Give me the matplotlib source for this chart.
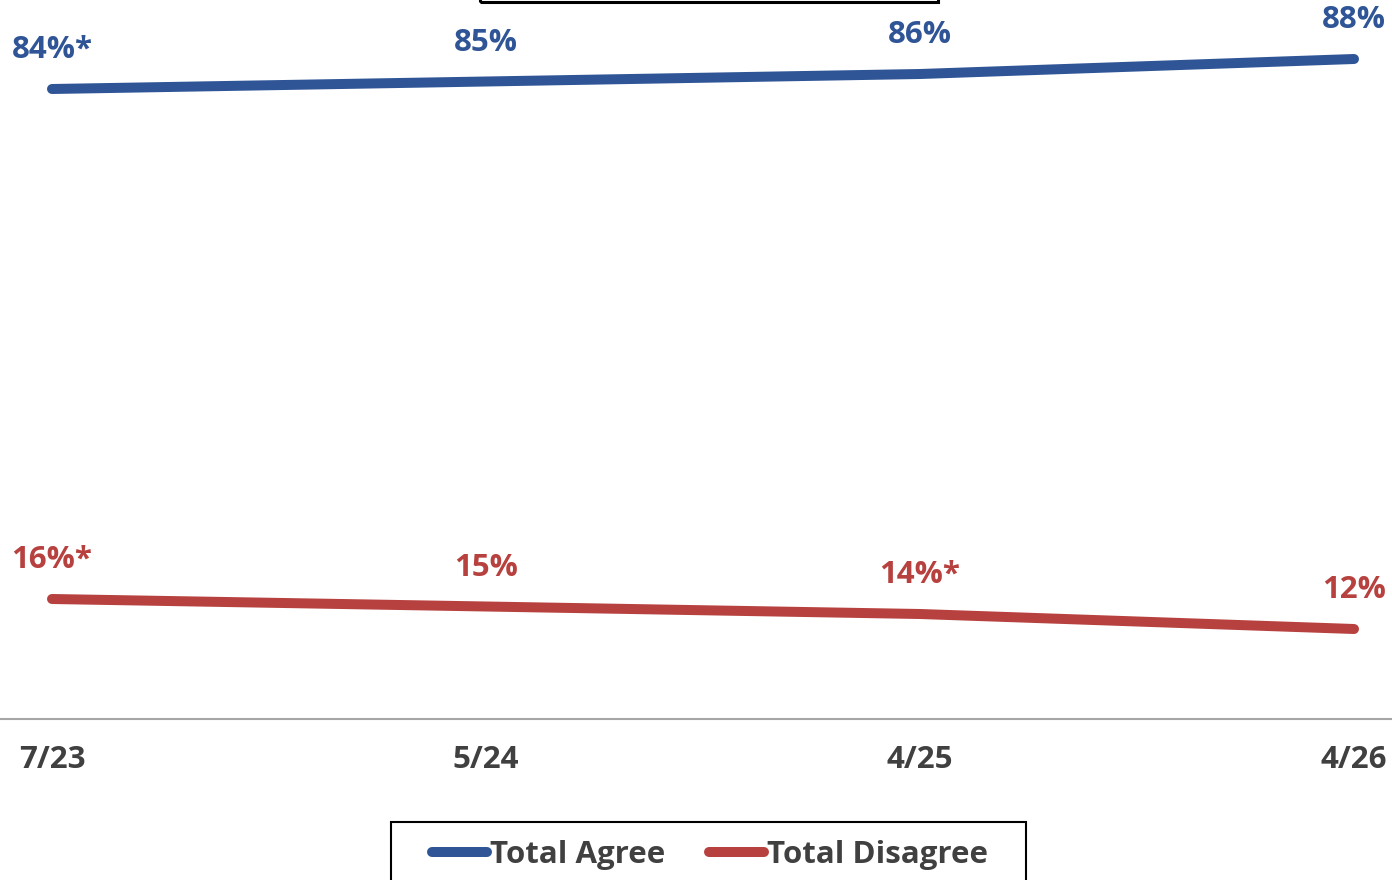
import matplotlib
matplotlib.use("Agg")
import matplotlib.pyplot as plt
from matplotlib.patches import Rectangle

plt.rcParams['font.family'] = ['Open Sans', 'DejaVu Sans']

# data
periods = ["7/23", "5/24", "4/25", "4/26"]
agree = [84, 85, 86, 88]
disagree = [16, 15, 14, 12]
agree_labels = ["84%*", "85%", "86%", "88%"]
disagree_labels = ["16%*", "15%", "14%*", "12%"]

blue = "#2F5597"
red = "#B7413E"
grey_txt = "#404040"
fs = 22.5

fig = plt.figure(figsize=(13.92, 8.80), dpi=100)
ax = fig.add_axes([0, 161 / 880, 1, 719 / 880])

x = list(range(len(periods)))
ax.plot(x, agree, color=blue, lw=7.2, solid_capstyle="round", label="Total Agree")
ax.plot(x, disagree, color=red, lw=7.2, solid_capstyle="round", label="Total Disagree")

for xi, v, t in zip(x, agree, agree_labels):
    ax.annotate(t, (xi, v), xytext=(0, 28), textcoords="offset points",
                ha="center", va="center", color=blue, fontsize=fs, fontweight="bold")
for xi, v, t in zip(x, disagree, disagree_labels):
    ax.annotate(t, (xi, v), xytext=(0, 28), textcoords="offset points",
                ha="center", va="center", color=red, fontsize=fs, fontweight="bold")

ax.set_xlim(-52 / 434, (1392 - 52) / 434)
ax.set_ylim(0, 719 / 7.5)
ax.set_xticks(x)
ax.set_xticklabels(periods, fontsize=fs, fontweight="bold", color=grey_txt)
ax.tick_params(axis="x", length=0, pad=19)
ax.set_yticks([])
for s in ["top", "left", "right"]:
    ax.spines[s].set_visible(False)
ax.spines["bottom"].set_color("#A6A6A6")
ax.spines["bottom"].set_linewidth(1.5)

# bottom edge of the title box (cropped)
fig.add_artist(Rectangle((480 / 1392, 878 / 880), (938 - 480) / 1392, 0.05,
                         transform=fig.transFigure, fill=False, ec="black", lw=2.2,
                         clip_on=False))

# legend box (cropped at the bottom)
fig.add_artist(Rectangle((391 / 1392, -0.05), (1026 - 391) / 1392, 0.05 + 58 / 880,
                         transform=fig.transFigure, fill=False, ec="black", lw=1.5,
                         clip_on=False))
leg = fig.legend(loc="center", bbox_to_anchor=(710 / 1392, 1 - 855 / 880),
                 ncol=2, frameon=False, fontsize=fs, handlelength=1.75,
                 handletextpad=0.1, columnspacing=1.4, borderpad=0, borderaxespad=0)
for t in leg.get_texts():
    t.set_color(grey_txt)
    t.set_fontweight("bold")

fig.savefig("out.png", dpi=100)
